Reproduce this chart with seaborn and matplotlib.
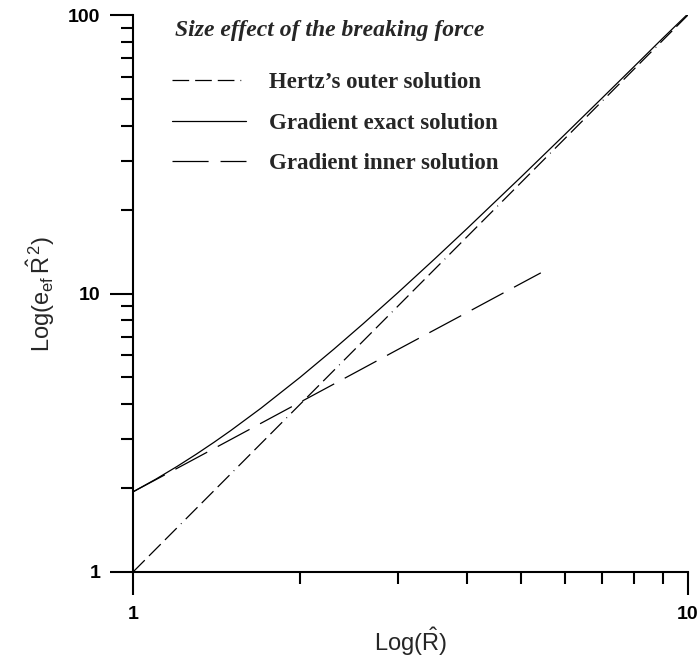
import matplotlib
matplotlib.use("Agg")
import matplotlib.pyplot as plt
import seaborn as sns
import numpy as np
import pandas as pd

# Normalised radius and the three breaking-force curves (log-log)
r_values = [1.0, 1.25, 1.5, 2.0, 2.5, 3.0, 4.0, 5.0, 6.0, 7.0, 8.0, 9.0, 10.0]
hertz_outer = [1.0, 1.5625, 2.25, 4.0, 6.25, 9.0, 16.0, 25.0, 36.0, 49.0, 64.0, 81.0, 100.0]

r_exact = [1.0, 1.1, 1.2, 1.3, 1.4, 1.5, 1.7, 2.0, 2.3, 2.6, 3.0, 3.5, 4.0,
           5.0, 6.0, 7.0, 8.0, 9.0, 10.0]
gradient_exact = [1.94, 2.156, 2.392, 2.648, 2.924, 3.22, 3.872, 5.0, 6.308, 7.796,
                  10.06, 13.34, 17.12, 26.18, 37.24, 50.3, 65.36, 82.42, 101.0]

r_inner = [1.0, 1.25, 1.5, 2.0, 2.5, 3.0, 4.0, 5.0, 5.43]
gradient_inner = [1.94, 2.46, 2.99, 4.07, 5.17, 6.29, 8.55, 10.86, 11.86]

series_labels = ["Hertz\u2019s outer solution",
                 "Gradient exact solution",
                 "Gradient inner solution"]
heading = "Size effect of the breaking force"

x_ticks = [1, 10]
y_ticks = [1, 10, 100]

sns.set_style("ticks")
plt.rcParams["font.family"] = ["Liberation Sans", "DejaVu Sans"]
plt.rcParams["mathtext.fontset"] = "custom"
plt.rcParams["mathtext.rm"] = "Liberation Sans"
plt.rcParams["mathtext.it"] = "Liberation Sans:italic"
plt.rcParams["lines.scale_dashes"] = False

fig = plt.figure(figsize=(7.0, 6.61), dpi=100)
fig.subplots_adjust(left=133 / 700, right=688 / 700,
                    bottom=1 - 572 / 661, top=1 - 15 / 661)
ax = fig.add_subplot(111)

outer_df = pd.DataFrame({"R": r_values, "value": hertz_outer})
exact_df = pd.DataFrame({"R": r_exact, "value": gradient_exact})
inner_df = pd.DataFrame({"R": r_inner, "value": gradient_inner})

hertz_dash = (0, (12, 4.3, 12, 4.3, 12, 4.3, 0.6, 4.3))
inner_dash = (0, (26, 8.6))

sns.lineplot(data=outer_df, x="R", y="value", ax=ax, color="black",
             linewidth=0.9, linestyle=hertz_dash, label=series_labels[0])
sns.lineplot(data=exact_df, x="R", y="value", ax=ax, color="black",
             linewidth=0.9, linestyle="-", label=series_labels[1])
sns.lineplot(data=inner_df, x="R", y="value", ax=ax, color="black",
             linewidth=0.9, linestyle=inner_dash, label=series_labels[2])

ax.set_xscale("log")
ax.set_yscale("log")
ax.set_xlim(1, 10)
ax.set_ylim(1, 100)

ax.set_xticks(x_ticks)
ax.set_xticklabels([str(t) for t in x_ticks])
ax.set_yticks(y_ticks)
ax.set_yticklabels([str(t) for t in y_ticks])
ax.xaxis.set_minor_locator(matplotlib.ticker.LogLocator(base=10, subs=np.arange(2, 10)))
ax.yaxis.set_minor_locator(matplotlib.ticker.LogLocator(base=10, subs=np.arange(2, 10)))
ax.xaxis.set_minor_formatter(matplotlib.ticker.NullFormatter())
ax.yaxis.set_minor_formatter(matplotlib.ticker.NullFormatter())

ax.tick_params(which="major", length=16.5, width=1.5, color="black",
               labelsize=14, labelcolor="black")
ax.tick_params(which="minor", length=8.6, width=1.5, color="black")
ax.tick_params(axis="x", which="major", pad=8)
ax.tick_params(axis="y", which="major", pad=7)
for lab in ax.get_xticklabels() + ax.get_yticklabels():
    lab.set_fontweight("bold")

sns.despine(ax=ax)
for side in ("left", "bottom"):
    ax.spines[side].set_linewidth(1.5)
    ax.spines[side].set_color("black")

ax.set_xlabel(r"$\mathrm{Log(\hat{R})}$", fontsize=17, labelpad=2)
ax.set_ylabel(r"$\mathrm{Log(e_{ef}\,\hat{R}^{\,2})}$", fontsize=17, labelpad=8)

ax.text(0.076, 0.972, heading, transform=ax.transAxes, ha="left", va="center",
        fontsize=17, fontweight="bold", fontstyle="italic",
        family=["Liberation Serif", "DejaVu Serif"])

leg = ax.legend(loc="upper left", bbox_to_anchor=(0.07, 0.898), frameon=False,
                prop={"family": ["Liberation Serif", "DejaVu Serif"],
                      "weight": "bold", "size": 16.5},
                handlelength=3.25, handletextpad=0.97, labelspacing=0.86,
                borderpad=0, borderaxespad=0)

fig.savefig("out.png", dpi=100, facecolor="white")
